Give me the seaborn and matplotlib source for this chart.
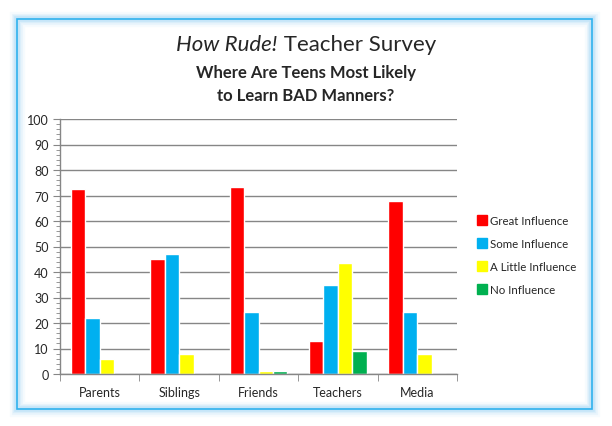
import pandas as pd
import seaborn as sns
import matplotlib.pyplot as plt
from matplotlib.patches import FancyBboxPatch
from matplotlib.lines import Line2D

# Data
sources = ['Parents', 'Siblings', 'Friends', 'Teachers', 'Media']
great = [72.5, 45, 73.5, 13, 68]
some = [22, 47, 24.5, 35, 24.5]
little = [6, 8, 1, 43.5, 8]
none_ = [0, 0, 1, 9, 0]
levels = ['Great Influence', 'Some Influence', 'A Little Influence', 'No Influence']
colors = ['#FF0000', '#00B0F0', '#FFFF00', '#00B050']

rows = []
for lvl, vals in zip(levels, [great, some, little, none_]):
    for s, v in zip(sources, vals):
        rows.append({'Source': s, 'Influence': lvl, 'Percent': v})
df = pd.DataFrame(rows)

sns.set_style('white')
plt.rcParams['font.family'] = ['Lato', 'DejaVu Sans']

fig = plt.figure(figsize=(6.12, 4.27), dpi=100)

# glowing frame
for lw, a in [(11, 0.07), (8, 0.11), (6, 0.16), (4, 0.25)]:
    fig.patches.append(FancyBboxPatch((17 / 612, 1 - 410 / 427), 575 / 612, 390 / 427,
                                      boxstyle='square,pad=0', transform=fig.transFigure,
                                      fill=False, ec='#8CCBF3', lw=lw, alpha=a))
fig.patches.append(FancyBboxPatch((17 / 612, 1 - 410 / 427), 575 / 612, 390 / 427,
                                  boxstyle='square,pad=0', transform=fig.transFigure,
                                  fill=False, ec='#2FB2EE', lw=1.2))

ax = fig.add_axes([60 / 612, 1 - 375 / 427, 397 / 612, 255 / 427])
sns.barplot(data=df, x='Source', y='Percent', hue='Influence', hue_order=levels,
            palette=colors, width=0.73, saturation=1, ax=ax, legend=False)

ax.set_ylim(0, 100)
ax.set_xlim(-0.5, 4.5)
ax.set_yticks(range(0, 101, 10))
ax.set_yticks(range(0, 101, 2), minor=True)
ax.set_xticks([x - 0.5 for x in range(6)], minor=True)
ax.set_xlabel('')
ax.set_ylabel('')
ax.yaxis.grid(True, color='#868686', lw=1)
ax.set_axisbelow(True)
for side in ['top', 'right']:
    ax.spines[side].set_visible(False)
for side in ['left', 'bottom']:
    ax.spines[side].set_color('#868686')
    ax.spines[side].set_linewidth(1)
ax.tick_params(axis='y', which='major', left=True, length=5, color='#868686', labelsize=9, pad=3)
ax.tick_params(axis='y', which='minor', left=True, length=3, color='#868686')
ax.tick_params(axis='x', which='major', length=0, labelsize=9, pad=9)
ax.tick_params(axis='x', which='minor', bottom=True, length=5, color='#868686')

# title with italic part
r = fig.canvas.get_renderer()
t1 = fig.text(0, 1 - 45 / 427, 'How Rude!', fontsize=16, style='italic', va='center')
t2 = fig.text(0, 1 - 45 / 427, ' Teacher Survey', fontsize=16, va='center')
w1 = t1.get_window_extent(r).width
w2 = t2.get_window_extent(r).width
x0 = 306 - (w1 + w2) / 2
t1.set_x(x0 / 612)
t2.set_x((x0 + w1) / 612)
fig.text(306 / 612, 1 - 73 / 427, 'Where Are Teens Most Likely', fontsize=12,
         fontweight='bold', ha='center', va='center')
fig.text(306 / 612, 1 - 96 / 427, 'to Learn BAD Manners?', fontsize=12,
         fontweight='bold', ha='center', va='center')

handles = [Line2D([], [], marker='s', ls='', color=c, markersize=7) for c in colors]
fig.legend(handles, levels, loc='center left', bbox_to_anchor=(466 / 612, 1 - 256 / 427),
           frameon=False, fontsize=8.3, handletextpad=0.2, labelspacing=1.05,
           handlelength=1.0)

fig.savefig('out.png', dpi=100)
